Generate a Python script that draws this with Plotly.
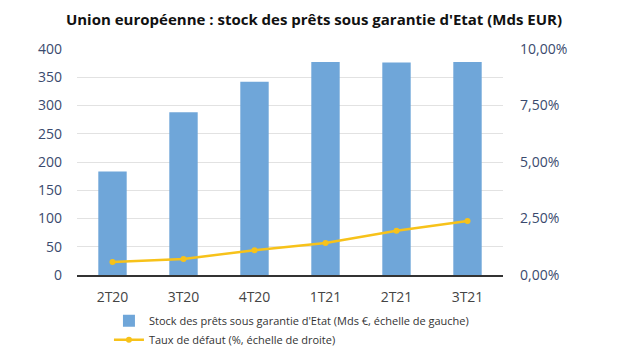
import plotly.graph_objects as go

categories = ["2T20", "3T20", "4T20", "1T21", "2T21", "3T21"]
stock = [183, 288, 342, 377, 376, 377]
taux = [0.0058, 0.0071, 0.0110, 0.0142, 0.0196, 0.0239]
left_ticks = [0, 50, 100, 150, 200, 250, 300, 350, 400]
right_ticks = [0, 0.025, 0.05, 0.075, 0.10]
right_labels = ["0,00%", "2,50%", "5,00%", "7,50%", "10,00%"]

font_family = "Open Sans, Noto Sans, sans-serif"
tick_color = "#3a4a6e"

fig = go.Figure()
fig.add_trace(go.Bar(
    x=categories, y=stock,
    name="Stock des prêts sous garantie d'Etat (Mds €, échelle de gauche)",
    marker=dict(color="#6fa6d9", line=dict(width=0)),
    yaxis="y",
))
fig.add_trace(go.Scatter(
    x=categories, y=taux,
    name="Taux de défaut (%, échelle de droite)",
    mode="lines+markers",
    line=dict(color="#f7c21a", width=2.5),
    marker=dict(color="#f7c21a", size=6),
    yaxis="y2",
))

fig.update_layout(
    width=628, height=348,
    margin=dict(l=77, r=125, t=49, b=73, autoexpand=False),
    paper_bgcolor="white", plot_bgcolor="white",
    title=dict(
        text="<b>Union européenne : stock des prêts sous garantie d'Etat (Mds EUR)</b>",
        x=0.5, xanchor="center", y=0.943, yanchor="middle",
        font=dict(family=font_family, size=15, color="#111111"),
    ),
    font=dict(family=font_family),
    bargap=0.6,
    showlegend=True,
    legend=dict(
        orientation="v", x=0.075, xanchor="left",
        yref="container", y=0.12, yanchor="top",
        font=dict(size=11, color="#333333"),
        tracegroupgap=0,
        bgcolor="rgba(0,0,0,0)",
    ),
    xaxis=dict(
        showgrid=False, showline=True, linecolor="#333333", linewidth=1.5,
        tickfont=dict(size=14, color="#444444"), ticks="",
        ticklabelstandoff=8,
    ),
    yaxis=dict(
        range=[0, 400], tickvals=left_ticks,
        showgrid=True, gridcolor="#e2e2e2", gridwidth=1,
        zeroline=False, showline=False,
        tickfont=dict(size=14, color=tick_color), ticks="",
        ticklabelstandoff=14,
    ),
    yaxis2=dict(
        range=[0, 0.10], tickvals=right_ticks, ticktext=right_labels,
        overlaying="y", side="right", showgrid=False, zeroline=False,
        tickfont=dict(size=14, color=tick_color), ticks="",
        ticklabelstandoff=16,
    ),
)

fig.write_html("out.html")
